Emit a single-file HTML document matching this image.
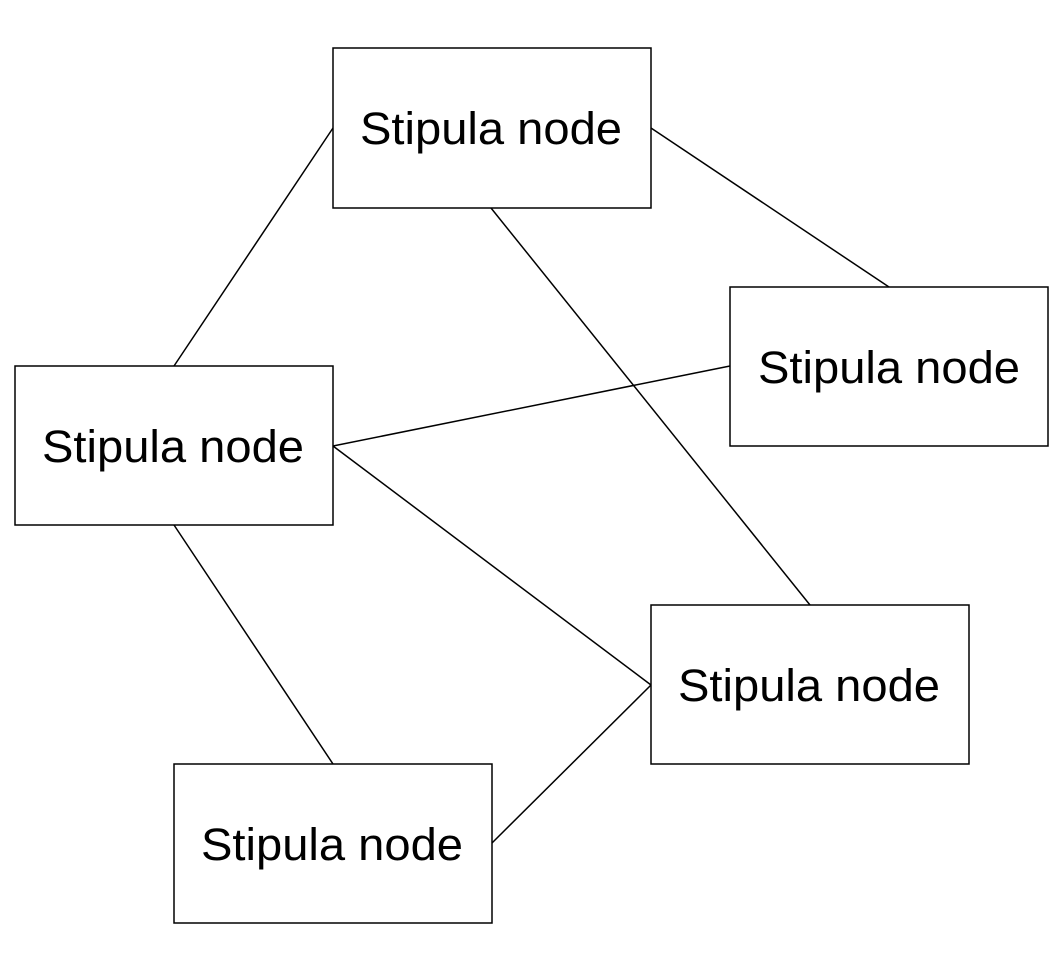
<!DOCTYPE html>
<html><head><style>html,body{margin:0;padding:0;background:#fff}</style></head>
<body>
<svg width="1064" height="980" viewBox="0 0 1064 980" xmlns="http://www.w3.org/2000/svg" style="display:block">
<g stroke="#000" stroke-width="1.5" fill="none">
<line x1="333" y1="128" x2="174" y2="366"/>
<line x1="651" y1="128" x2="889" y2="287"/>
<line x1="491" y1="208" x2="810" y2="605"/>
<line x1="333" y1="446" x2="730" y2="366"/>
<line x1="333" y1="446" x2="651" y2="685"/>
<line x1="174" y1="525" x2="333" y2="764"/>
<line x1="492" y1="843" x2="651" y2="685"/>
</g>
<g stroke="#000" stroke-width="1.5" fill="#fff">
<rect x="333" y="48" width="318" height="160"/>
<rect x="730" y="287" width="318" height="159"/>
<rect x="15" y="366" width="318" height="159"/>
<rect x="651" y="605" width="318" height="159"/>
<rect x="174" y="764" width="318" height="159"/>
</g>
<g font-family="Liberation Sans, Arial, sans-serif" font-size="45" text-anchor="middle" fill="#000" lengthAdjust="spacingAndGlyphs">
<text x="491" y="144" textLength="262" lengthAdjust="spacingAndGlyphs">Stipula node</text>
<text x="889" y="383" textLength="262" lengthAdjust="spacingAndGlyphs">Stipula node</text>
<text x="173" y="462" textLength="262" lengthAdjust="spacingAndGlyphs">Stipula node</text>
<text x="809" y="701" textLength="262" lengthAdjust="spacingAndGlyphs">Stipula node</text>
<text x="332" y="860" textLength="262" lengthAdjust="spacingAndGlyphs">Stipula node</text>
</g>
</svg>
</body></html>
